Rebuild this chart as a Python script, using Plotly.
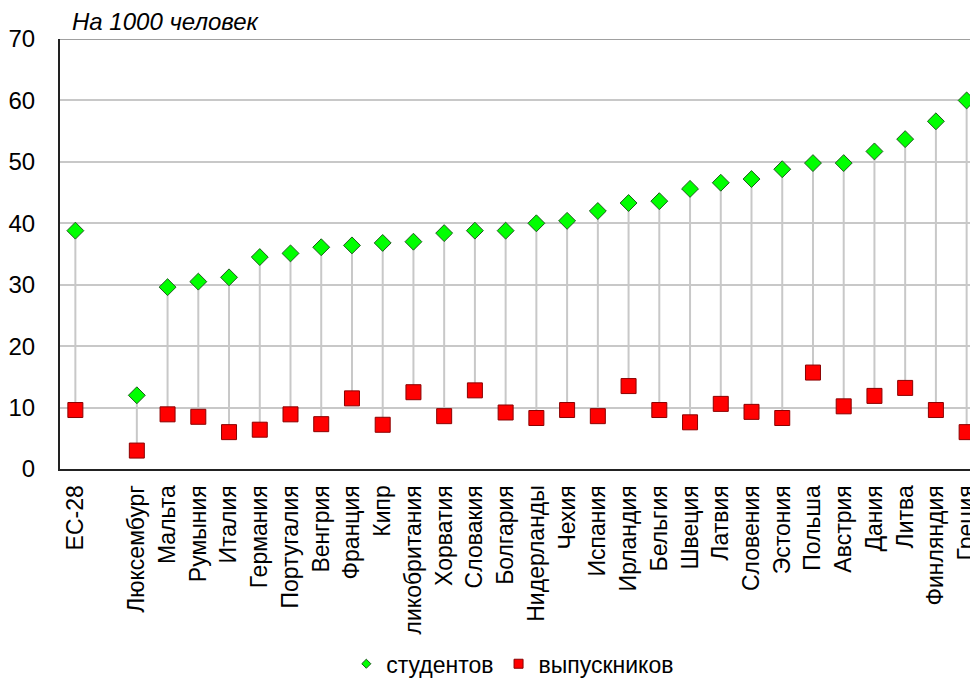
import plotly.graph_objects as go

categories = ["ЕС-28", " ", "Люксембург", "Мальта", "Румыния", "Италия", "Германия",
              "Португалия", "Венгрия", "Франция", "Кипр", "ликобритания", "Хорватия",
              "Словакия", "Болгария", "Нидерланды", "Чехия", "Испания", "Ирландия",
              "Бельгия", "Швеция", "Латвия", "Словения", "Эстония", "Польша", "Австрия",
              "Дания", "Литва", "Финляндия", "Греция"]

students = [38.8, None, 12.0, 29.6, 30.5, 31.2, 34.5, 35.1, 36.1, 36.4, 36.8, 37.0, 38.4,
            38.8, 38.8, 40.0, 40.4, 42.0, 43.3, 43.6, 45.6, 46.6, 47.2, 48.8, 49.8, 49.8,
            51.7, 53.7, 56.6, 60.0]

graduates = [9.6, None, 3.0, 8.9, 8.5, 6.0, 6.4, 8.9, 7.3, 11.5, 7.2, 12.5, 8.6,
             12.8, 9.2, 8.3, 9.6, 8.6, 13.5, 9.6, 7.6, 10.6, 9.3, 8.3, 15.7, 10.2,
             11.9, 13.2, 9.6, 6.0]

y_ticks = [0, 10, 20, 30, 40, 50, 60, 70]

FONT = "Liberation Sans, Arial, sans-serif"

# high-low (drop) lines between the two series
lx, ly = [], []
for c, s, g in zip(categories, students, graduates):
    if s is None or g is None:
        continue
    lx += [c, c, None]
    ly += [s, g, None]

fig = go.Figure()
fig.add_trace(go.Scatter(x=lx, y=ly, mode="lines", line=dict(color="#c8c8c8", width=2),
                         hoverinfo="skip", showlegend=False))
fig.add_trace(go.Scatter(x=categories, y=students, mode="markers", name="студентов",
                         marker=dict(symbol="diamond", size=13, color="#00ff00",
                                     line=dict(color="#1e5a1e", width=1)),
                         showlegend=False, cliponaxis=False))
fig.add_trace(go.Scatter(x=categories, y=graduates, mode="markers", name="выпускников",
                         marker=dict(symbol="square", size=15, color="#ff0000",
                                     line=dict(color="#8b0000", width=1)),
                         showlegend=False, cliponaxis=False))
# legend entries (small symbols as in the reference)
fig.add_trace(go.Scatter(x=[None], y=[None], mode="markers", name="студентов",
                         marker=dict(symbol="diamond", size=7, color="#00ff00",
                                     line=dict(color="#1e5a1e", width=1))))
fig.add_trace(go.Scatter(x=[None], y=[None], mode="markers", name="выпускников",
                         marker=dict(symbol="square", size=9, color="#ff0000",
                                     line=dict(color="#8b0000", width=1))))

fig.update_layout(
    width=978, height=678,
    margin=dict(l=52, r=0, t=31, b=217, autoexpand=False),
    paper_bgcolor="white", plot_bgcolor="white",
    font=dict(family=FONT, size=20, color="#000000"),
    showlegend=True,
    legend=dict(orientation="h", x=0.489, xanchor="center", y=-0.453, yanchor="middle",
                font=dict(size=23), itemwidth=30, tracegroupgap=0),
    xaxis=dict(type="category", categoryorder="array", categoryarray=categories,
               range=[-0.5, 29.63], tickangle=-90, showgrid=False, zeroline=False,
               showline=True, linecolor="#222222", linewidth=2, automargin=False,
               ticks="outside", ticklen=5, tickcolor="rgba(0,0,0,0)",
               tickfont=dict(size=23, family=FONT)),
    yaxis=dict(range=[0, 70], tickvals=y_ticks, showgrid=True, gridcolor="#c8c8c8",
               gridwidth=2, zeroline=False, showline=True, linecolor="#222222",
               linewidth=2, ticks="outside", ticklen=18, tickcolor="rgba(0,0,0,0)",
               automargin=False, tickfont=dict(size=24, family=FONT)),
    annotations=[dict(text="<i>На 1000 человек</i>", xref="paper", yref="paper",
                      x=0.0108, y=1, xanchor="left", yanchor="middle", yshift=18,
                      showarrow=False, font=dict(size=24, family=FONT))],
    shapes=[dict(type="line", xref="paper", yref="y", x0=0, x1=1, y0=70, y1=70,
                 line=dict(color="#a0a0a0", width=2))],
)

fig.write_html("out.html")
